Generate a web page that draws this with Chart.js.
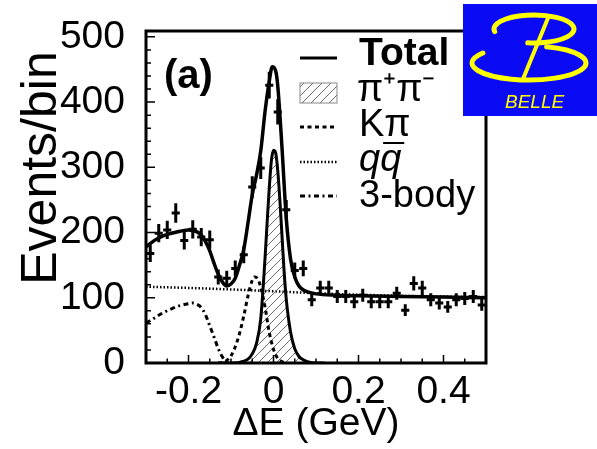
<!DOCTYPE html>
<html>
<head>
<meta charset="utf-8">
<script src="https://cdn.jsdelivr.net/npm/chart.js@4.4.1/dist/chart.umd.min.js"></script>
<style>
  html, body { margin: 0; padding: 0; background: #fff; }
  canvas { display: block; }
</style>
</head>
<body>
<canvas id="grafica" width="597" height="449"></canvas>
<script>
// --- DATOS ---
const binCenters = [-0.29, -0.27, -0.25, -0.23, -0.21, -0.19, -0.17, -0.15, -0.13, -0.11,
                    -0.09, -0.07, -0.05, -0.03, -0.01, 0.01, 0.03, 0.05, 0.07, 0.09,
                    0.11, 0.13, 0.15, 0.17, 0.19, 0.21, 0.23, 0.25, 0.27, 0.29,
                    0.31, 0.33, 0.35, 0.37, 0.39, 0.41, 0.43, 0.45, 0.47, 0.49];
const counts = [168, 199, 204, 230, 188, 205, 193, 189, 132, 130,
                145, 166, 270, 299, 426, 385, 235, 142, 145, 97,
                115, 115, 102, 102, 94, 104, 94, 94, 94, 107,
                81, 122, 115, 97, 92, 86, 97, 99, 102, 89];
const countErr = [13, 14, 14, 15, 14, 14, 14, 14, 11.5, 11.5,
                  12, 13, 16.5, 17, 20.5, 19.5, 15, 12, 12, 10,
                  11, 11, 10, 10, 10, 10, 10, 10, 10, 10,
                  9, 11, 11, 10, 10, 9, 10, 10, 10, 9];

const totalX = [-0.30, -0.28, -0.26, -0.24, -0.22, -0.20, -0.18, -0.17, -0.16, -0.15,
                -0.14, -0.13, -0.12, -0.11, -0.10, -0.09, -0.08, -0.07, -0.06, -0.05,
                -0.04, -0.03, -0.02, -0.01, -0.003, 0.005, 0.01, 0.02, 0.03, 0.04,
                0.05, 0.06, 0.07, 0.08, 0.10, 0.15, 0.20, 0.30, 0.40, 0.50];
const totalY = [178, 188, 195, 199, 202, 204, 201, 196, 186, 172,
                153, 136, 124, 118, 121, 130, 150, 174, 215, 258,
                288, 325, 385, 432, 454, 448, 425, 330, 222, 160,
                132, 118, 112, 109, 106, 104, 103, 102, 101, 100];

const pipiX = [-0.12, -0.10, -0.08, -0.06, -0.05, -0.04, -0.03, -0.02, -0.015, -0.01,
               -0.005, 0, 0.005, 0.01, 0.015, 0.02, 0.025, 0.03, 0.04, 0.05,
               0.06, 0.07, 0.08, 0.10, 0.12];
const pipiY = [0, 0, 1, 6, 14, 30, 68, 160, 215, 268,
               310, 326, 322, 295, 250, 195, 140, 98, 48, 22,
               10, 5, 2, 0, 0];

const kpiX = [-0.13, -0.12, -0.11, -0.10, -0.09, -0.08, -0.07, -0.06, -0.05, -0.045,
              -0.04, -0.035, -0.03, -0.02, -0.01, 0, 0.01, 0.02, 0.03];
const kpiY = [0, 1, 4, 11, 25, 45, 72, 103, 127, 132,
              131, 126, 116, 86, 47, 21, 7, 2, 0];

const qqX = [-0.30, -0.15, 0, 0.10, 0.30, 0.50];
const qqY = [117, 114, 110, 107, 103, 101];

const threeX = [-0.30, -0.28, -0.26, -0.24, -0.22, -0.20, -0.19, -0.18, -0.17, -0.16,
                -0.15, -0.14, -0.13, -0.12, -0.11, -0.10];
const threeY = [61, 69, 77, 83, 88, 91, 92, 90, 85, 74,
                57, 40, 22, 9, 2, 0];

const xTickValues = [-0.2, 0, 0.2, 0.4];
const xTickLabels = ['-0.2', '0', '0.2', '0.4'];
const yTickValues = [0, 100, 200, 300, 400, 500];
const yTickLabels = ['0', '100', '200', '300', '400', '500'];

const legendLabels = ['Total', 'π⁺π⁻', 'Kπ', 'qq', '3-body'];

// --- ESTILO ---
const FAMILIA = "'Liberation Sans', Arial, sans-serif";
const binHalf = 0.0095;

function puntos(xs, ys) {
    return xs.map((v, i) => ({ x: v, y: ys[i] }));
}

function rayado() {
    const c = document.createElement('canvas');
    c.width = 9; c.height = 9;
    const g = c.getContext('2d');
    g.strokeStyle = '#6a6a6a';
    g.lineWidth = 1;
    g.beginPath();
    g.moveTo(-1, 10); g.lineTo(10, -1);
    g.moveTo(-1, 1); g.lineTo(1, -1);
    g.moveTo(8, 10); g.lineTo(10, 8);
    g.stroke();
    return g.createPattern(c, 'repeat');
}
const patronRayado = rayado();

// Marco, ticks hacia dentro, puntos con barras de error, leyenda y logo
const decoracion = {
    id: 'decoracion',
    afterDatasetsDraw(chart) {
        const { ctx, chartArea: a, scales: { x, y } } = chart;
        ctx.save();
        // puntos de datos
        ctx.strokeStyle = '#000';
        ctx.lineWidth = 3;
        ctx.beginPath();
        binCenters.forEach((c, i) => {
            const px = x.getPixelForValue(c);
            const py = y.getPixelForValue(counts[i]);
            ctx.moveTo(x.getPixelForValue(c - binHalf), py);
            ctx.lineTo(x.getPixelForValue(c + binHalf), py);
            ctx.moveTo(px, y.getPixelForValue(counts[i] - countErr[i]));
            ctx.lineTo(px, y.getPixelForValue(counts[i] + countErr[i]));
        });
        ctx.stroke();

        // ticks menores/mayores hacia dentro
        ctx.lineWidth = 1.5;
        ctx.beginPath();
        for (let k = 0; k <= 16; k++) {
            const v = -0.3 + k * 0.05;
            const px = x.getPixelForValue(v);
            const major = xTickValues.some(t => Math.abs(t - v) < 1e-6);
            ctx.moveTo(px, a.bottom);
            ctx.lineTo(px, a.bottom - (major ? 8 : 4.5));
        }
        for (let v = 0; v <= 500; v += 20) {
            const py = y.getPixelForValue(v);
            const major = v % 100 === 0;
            ctx.moveTo(a.left, py);
            ctx.lineTo(a.left + (major ? 9 : 5), py);
        }
        ctx.stroke();

        // marco
        ctx.lineWidth = 3;
        ctx.strokeRect(a.left, a.top, a.right - a.left, a.bottom - a.top);

        // etiqueta (a)
        ctx.fillStyle = '#000';
        ctx.font = 'bold 40px ' + FAMILIA;
        ctx.textBaseline = 'alphabetic';
        ctx.fillText('(a)', 164, 88);

        // leyenda
        const filas = [65, 101, 136, 171, 207];
        const muestraY = [58, 93, 127, 162, 196];
        const x0 = 300, x1 = 337, tx = 359;
        ctx.lineWidth = 3;
        ctx.beginPath(); ctx.moveTo(x0, muestraY[0]); ctx.lineTo(x1, muestraY[0]); ctx.stroke();
        ctx.fillStyle = patronRayado;
        ctx.fillRect(x0, 83, x1 - x0, 20);
        ctx.lineWidth = 1;
        ctx.strokeStyle = '#888';
        ctx.strokeRect(x0, 83, x1 - x0, 20);
        ctx.strokeStyle = '#000';
        ctx.lineWidth = 3;
        ctx.setLineDash([4, 3.5]);
        ctx.beginPath(); ctx.moveTo(x0, muestraY[2]); ctx.lineTo(x1, muestraY[2]); ctx.stroke();
        ctx.lineWidth = 2.5;
        ctx.setLineDash([1.5, 2]);
        ctx.beginPath(); ctx.moveTo(x0, muestraY[3]); ctx.lineTo(x1, muestraY[3]); ctx.stroke();
        ctx.lineWidth = 3;
        ctx.setLineDash([5, 3.5, 2, 3.5]);
        ctx.beginPath(); ctx.moveTo(x0, muestraY[4]); ctx.lineTo(x1, muestraY[4]); ctx.stroke();
        ctx.setLineDash([]);

        ctx.fillStyle = '#000';
        ctx.font = 'bold 39px ' + FAMILIA;
        ctx.fillText(legendLabels[0], tx, filas[0]);
        ctx.font = '38px ' + FAMILIA;
        ctx.fillText(legendLabels[1], tx - 2, filas[1]);
        ctx.fillText(legendLabels[2], tx, filas[2]);
        ctx.font = 'italic 38px ' + FAMILIA;
        ctx.fillText(legendLabels[3], tx, filas[3]);
        const wq = ctx.measureText('q').width;
        ctx.lineWidth = 2;
        ctx.beginPath();
        ctx.moveTo(tx + wq + 3, filas[3] - 28);
        ctx.lineTo(tx + 2 * wq + 3, filas[3] - 28);
        ctx.stroke();
        ctx.font = '38px ' + FAMILIA;
        ctx.fillText(legendLabels[4], tx, filas[4]);

        // titulo eje Y
        ctx.save();
        ctx.translate(42, 168);
        ctx.rotate(-Math.PI / 2);
        ctx.textAlign = 'center';
        ctx.textBaseline = 'middle';
        ctx.font = '50px ' + FAMILIA;
        ctx.fillText('Events/bin', 0, 0);
        ctx.restore();

        // logo BELLE
        ctx.fillStyle = '#0a0af5';
        ctx.fillRect(463, 4, 134, 112);
        ctx.strokeStyle = '#ffff00';
        ctx.lineWidth = 5;
        ctx.lineCap = 'round';
        ctx.beginPath();
        ctx.ellipse(534, 29, 40, 14, 0, Math.PI * 0.94, Math.PI * 2.55);
        ctx.stroke();
        ctx.beginPath();
        ctx.ellipse(529, 63, 57, 17, 0, -Math.PI * 0.4, Math.PI * 1.2);
        ctx.stroke();
        ctx.lineWidth = 4;
        ctx.beginPath();
        ctx.moveTo(548, 18);
        ctx.lineTo(523, 79);
        ctx.stroke();
        ctx.fillStyle = '#ffff00';
        ctx.font = 'italic 19px ' + FAMILIA;
        ctx.textAlign = 'left';
        ctx.fillText('BELLE', 505, 108);
        ctx.restore();
    }
};

const ctx = document.getElementById('grafica').getContext('2d');

new Chart(ctx, {
    type: 'line',
    data: {
        datasets: [
            { label: 'Total', data: puntos(totalX, totalY), borderColor: '#000', borderWidth: 3.5,
              pointRadius: 0, cubicInterpolationMode: 'monotone', fill: false },
            { label: 'Kπ', data: puntos(kpiX, kpiY), borderColor: '#000', borderWidth: 3,
              borderDash: [4, 3.5], pointRadius: 0, cubicInterpolationMode: 'monotone', fill: false },
            { label: 'π⁺π⁻', data: puntos(pipiX, pipiY), borderColor: '#000', borderWidth: 3,
              backgroundColor: patronRayado, pointRadius: 0, cubicInterpolationMode: 'monotone', fill: 'origin' },
            { label: 'qq̄', data: puntos(qqX, qqY), borderColor: '#000', borderWidth: 2.5,
              borderDash: [1.5, 2], pointRadius: 0, cubicInterpolationMode: 'monotone', fill: false },
            { label: '3-body', data: puntos(threeX, threeY), borderColor: '#000', borderWidth: 3,
              borderDash: [5, 3.5, 2, 3.5], pointRadius: 0, cubicInterpolationMode: 'monotone', fill: false }
        ]
    },
    options: {
        responsive: false,
        animation: false,
        devicePixelRatio: 1,
        layout: { padding: { left: 0, right: 111, top: 31, bottom: 0 } },
        plugins: { legend: { display: false }, tooltip: { enabled: false } },
        scales: {
            x: {
                type: 'linear', min: -0.3, max: 0.5,
                afterFit(s) { s.height = 86; s.paddingLeft = 0; s.paddingRight = 0; },
                afterBuildTicks(s) { s.ticks = xTickValues.map(v => ({ value: v })); },
                grid: { display: false, drawTicks: false },
                border: { display: false },
                ticks: {
                    padding: 6, color: '#000', maxRotation: 0, autoSkip: false,
                    font: { family: FAMILIA, size: 39 },
                    callback: (v, i) => xTickLabels[i]
                },
                title: {
                    display: true, text: 'ΔE (GeV)', color: '#000',
                    font: { family: FAMILIA, size: 39 }, padding: { top: 0, bottom: 1 }
                }
            },
            y: {
                type: 'linear', min: 0, max: 509,
                afterFit(s) { s.width = 146; s.paddingTop = 0; s.paddingBottom = 0; },
                afterBuildTicks(s) { s.ticks = yTickValues.map(v => ({ value: v })); },
                grid: { display: false, drawTicks: false },
                border: { display: false },
                ticks: {
                    padding: 21, color: '#000', autoSkip: false,
                    font: { family: FAMILIA, size: 39 },
                    callback: (v, i) => yTickLabels[i]
                }
            }
        }
    },
    plugins: [decoracion]
});
</script>
</body>
</html>
